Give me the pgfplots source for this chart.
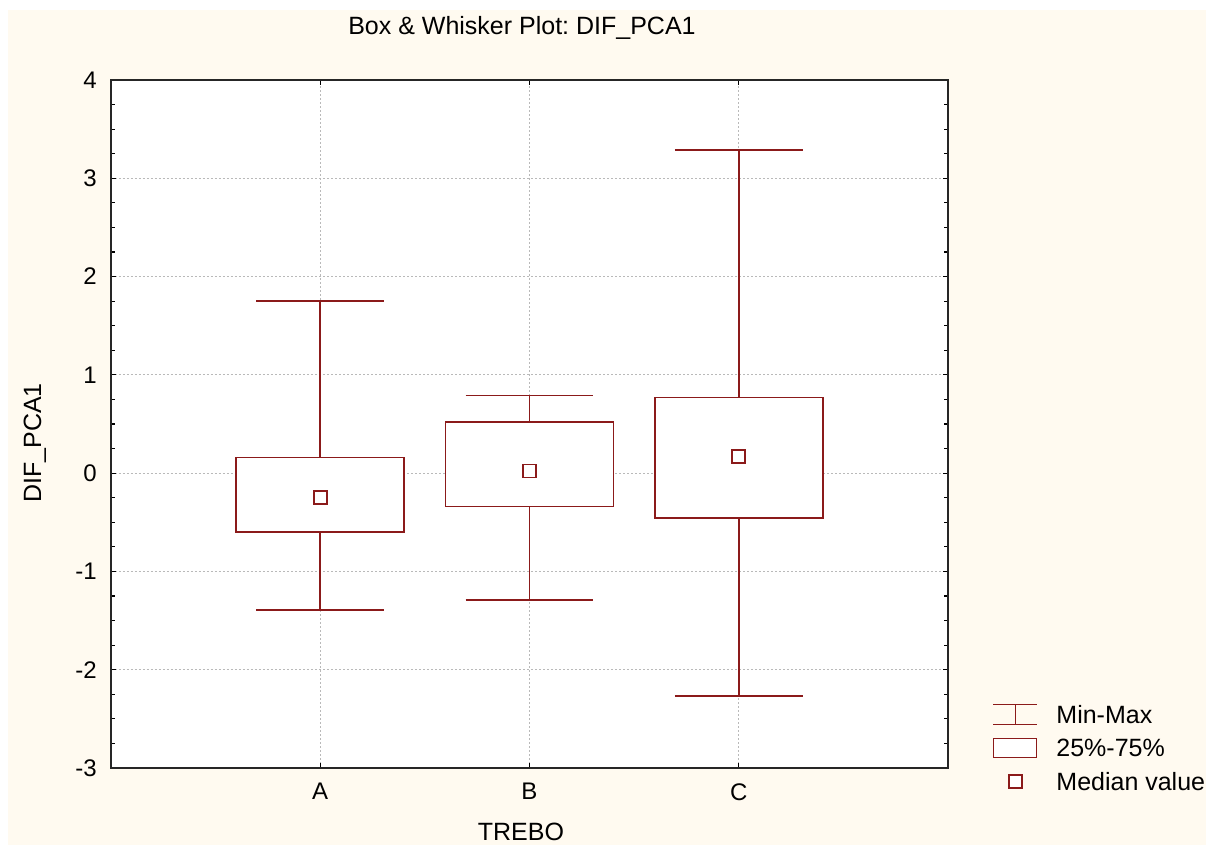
\documentclass[border=0pt]{standalone}
\usepackage{fontspec}
\setmainfont{Liberation Sans}
\usepackage{pgfplots}
\pgfplotsset{compat=1.18}
\usepgfplotslibrary{statistics}

\definecolor{boxred}{RGB}{139,26,26}
\definecolor{paper}{RGB}{255,250,240}
\definecolor{gridgray}{RGB}{185,185,185}

\newcommand\labelfont{\fontsize{12.5}{15}\selectfont}
\newcommand\tickfont{\fontsize{12}{14}\selectfont}
\frenchspacing

\begin{document}
\begin{tikzpicture}
% page and background panel
\useasboundingbox (-55.5pt,-38.5pt) rectangle (547.5pt,384pt);
\fill[white] (-55.5pt,-38.5pt) rectangle (547.5pt,384pt);
\fill[paper] (-51.5pt,-38.5pt) rectangle (547.5pt,379pt);

\begin{axis}[
  at={(0,0)}, anchor=south west,
  scale only axis,
  width=418.5pt, height=344pt,
  xmin=0, xmax=4, ymin=-3, ymax=4,
  xtick={1,2,3}, xticklabels={A,B,C},
  ytick={-3,-2,-1,0,1,2,3,4},
  minor y tick num=3,
  tick pos=both, tick align=inside,
  major tick length=2.5pt, minor tick length=2pt,
  every tick/.style={black, line width=0.6pt},
  axis line style={black!85, line width=0.8pt},
  axis background/.style={fill=white},
  grid=major,
  major grid style={gridgray, line width=0.5pt, dash pattern=on 1pt off 1pt},
  /pgf/number format/assume math mode=true,
  ticklabel style={font=\tickfont},
  yticklabel style={inner sep=0pt, anchor=east, xshift=-7pt},
  xticklabel style={inner sep=0pt, anchor=north, yshift=-7.5pt},
  title={Box \& Whisker Plot: DIF\_PCA1},
  title style={font=\labelfont, inner sep=0pt, anchor=base,
    at={(axis description cs:0.491,1.048)}},
  xlabel={TREBO},
  xlabel style={font=\labelfont, inner sep=0pt, anchor=base,
    at={(axis description cs:0.4898,-0.1061)}},
  ylabel={DIF\_PCA1},
  ylabel style={font=\labelfont, inner sep=0pt, anchor=base,
    at={(axis description cs:-0.0836,0.4724)}},
  legend style={
    at={(axis description cs:1.0514,0.0959)}, anchor=north west,
    draw=none, fill=none, inner sep=0pt,
    font=\labelfont, row sep=4.75pt, column sep=8.5pt,
    nodes={scale=1, inner sep=0pt, text height=10.5pt, text depth=1.5pt},
  },
  legend cell align=left,
  boxplot/draw direction=y,
  boxplot/box extend=0.803,
  boxplot/whisker extend=0.61,
  boxplot/every box/.style={fill=white},
  boxplot/draw/median/.code={},
]

% boxes (25%-75%) and min-max whiskers for groups A, B, C
\addplot[boxred, line width=0.85pt, forget plot,
  boxplot prepared={draw position=1,
    lower whisker=-1.39, lower quartile=-0.60, median=-0.25,
    upper quartile=0.16, upper whisker=1.75}]
  coordinates {};
\addplot[boxred, line width=0.85pt, forget plot,
  boxplot prepared={draw position=2,
    lower whisker=-1.29, lower quartile=-0.34, median=0.02,
    upper quartile=0.52, upper whisker=0.79}]
  coordinates {};
\addplot[boxred, line width=0.85pt, forget plot,
  boxplot prepared={draw position=3,
    lower whisker=-2.27, lower quartile=-0.46, median=0.17,
    upper quartile=0.77, upper whisker=3.29}]
  coordinates {};

% legend symbols
\addlegendimage{legend image code/.code={
  \path[draw=none, fill=none] (-12pt,-5pt) rectangle (12pt,5pt);
  \draw[boxred, line width=0.8pt] (0pt,-5pt) -- (0pt,5pt);
  \draw[boxred, line width=0.8pt] (-11pt,5pt) -- (11pt,5pt);
  \draw[boxred, line width=0.8pt] (-11pt,-5pt) -- (11pt,-5pt);
}}
\addlegendentry{Min-Max}
\addlegendimage{legend image code/.code={
  \path[draw=none, fill=none] (-12pt,-5pt) rectangle (12pt,5pt);
  \draw[boxred, line width=0.85pt, fill=white] (-11pt,-4.75pt) rectangle (10.5pt,4.75pt);
}}
\addlegendentry{25\%-75\%}

% medians
\addplot[boxred, only marks, mark=square, mark size=3.25pt,
  mark options={line width=0.8pt, fill=white},
  legend image code/.code={
    \path[draw=none, fill=none] (-12pt,-5pt) rectangle (12pt,5pt);
    \draw[boxred, line width=0.8pt, fill=white] (-3.25pt,-3.25pt) rectangle (3.25pt,3.25pt);
  }]
  coordinates {(1,-0.25) (2,0.02) (3,0.17)};
\addlegendentry{Median value}

\end{axis}
\end{tikzpicture}
\end{document}
